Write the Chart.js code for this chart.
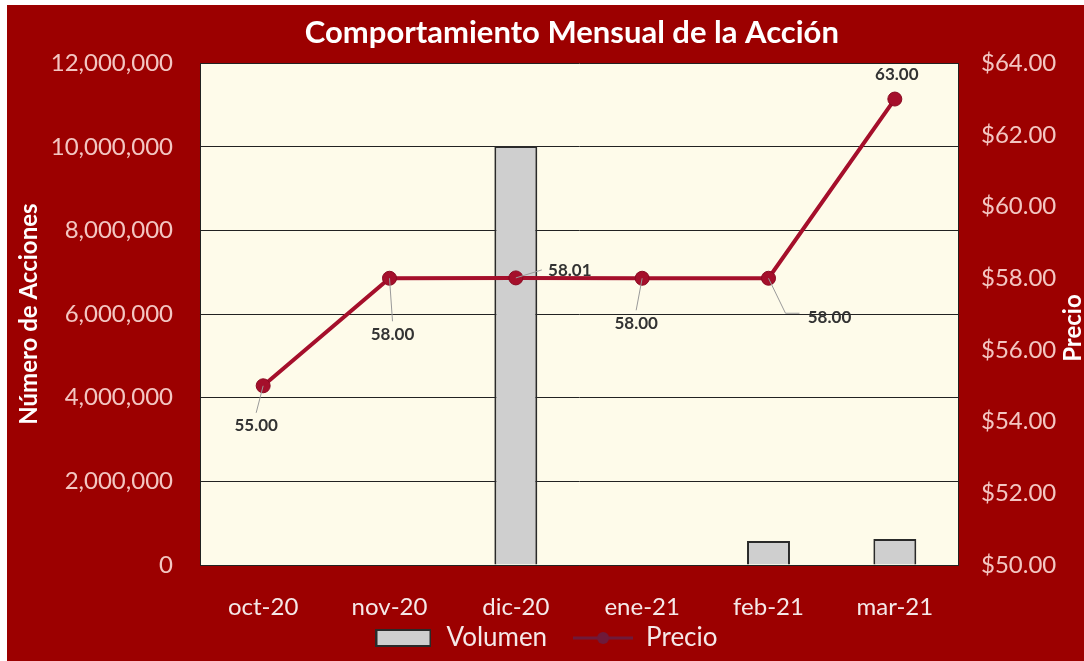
<!DOCTYPE html>
<html>
<head>
<meta charset="utf-8">
<script src="https://cdn.jsdelivr.net/npm/chart.js@4.4.0/dist/chart.umd.min.js"></script>
<style>
  html, body { margin: 0; padding: 0; background: #fff; }
  #wrap { position: absolute; left: 7px; top: 5px; width: 1077px; height: 656px; background: #9c0000; }
</style>
</head>
<body>
<div id="wrap"><canvas id="chart" width="1077" height="656"></canvas></div>
<script>
// datos
const meses = ["oct-20", "nov-20", "dic-20", "ene-21", "feb-21", "mar-21"];
const volumen = [0, 0, 10020000, 0, 575000, 620000];
const precio = [55.00, 58.00, 58.01, 58.00, 58.00, 63.00];
const etiquetasPrecio = ["55.00", "58.00", "58.01", "58.00", "58.00", "63.00"];

// desplazamiento de cada etiqueta respecto al punto (px)
const offsets = [[-7, 40], [3, 56], [54, -7], [-6, 45], [61, 39], [2, -25]];

const fuente = "Lato, 'Open Sans', sans-serif";
const rojoLinea = "#a50f2b";

// iconos de la leyenda
function iconoBarra() {
    const c = document.createElement("canvas");
    c.width = 56; c.height = 18;
    const g = c.getContext("2d");
    g.fillStyle = "#cfcfcf";
    g.fillRect(1, 1, 54, 16);
    g.strokeStyle = "#2a2a2a";
    g.lineWidth = 2;
    g.strokeRect(1, 1, 54, 16);
    return c;
}
function iconoLinea() {
    const c = document.createElement("canvas");
    c.width = 60; c.height = 18;
    const g = c.getContext("2d");
    g.strokeStyle = "#6e1a3a";
    g.lineWidth = 3;
    g.beginPath(); g.moveTo(0, 9); g.lineTo(60, 9); g.stroke();
    g.fillStyle = "#6e1a3a";
    g.beginPath(); g.arc(30, 9, 6, 0, Math.PI * 2); g.fill();
    return c;
}

const fondoArea = {
    id: "fondoArea",
    beforeDraw(chart) {
        const { ctx, chartArea: a } = chart;
        ctx.save();
        ctx.fillStyle = "#fefbea";
        ctx.fillRect(a.left, a.top, a.right - a.left, a.bottom - a.top);
        ctx.restore();
    }
};

const etiquetas = {
    id: "etiquetas",
    afterDatasetsDraw(chart) {
        const { ctx } = chart;
        const meta = chart.getDatasetMeta(0);
        ctx.save();
        ctx.font = "bold 17px " + fuente;
        ctx.textAlign = "center";
        ctx.textBaseline = "middle";
        meta.data.forEach((pt, i) => {
            const [dx, dy] = offsets[i];
            const lx = pt.x + dx, ly = pt.y + dy;
            ctx.strokeStyle = "#9a9a9a";
            ctx.lineWidth = 1;
            if (Math.abs(dy) > 30) {
                ctx.beginPath();
                ctx.moveTo(pt.x, pt.y);
                if (dx > 30) {
                    ctx.lineTo(lx - 44, ly - 4);
                    ctx.lineTo(lx - 30, ly - 4);
                } else {
                    ctx.lineTo(lx, ly - 13);
                }
                ctx.stroke();
            } else if (dx > 30) {
                ctx.beginPath();
                ctx.moveTo(pt.x, pt.y);
                ctx.lineTo(lx - 28, ly - 1);
                ctx.stroke();
            }
            ctx.fillStyle = "#333";
            ctx.fillText(etiquetasPrecio[i], lx, ly);
        });
        ctx.restore();
    }
};

const tituloPrecio = {
    id: "tituloPrecio",
    afterDraw(chart) {
        const { ctx, chartArea: a } = chart;
        ctx.save();
        ctx.translate(1066, (a.top + a.bottom) / 2 + 14);
        ctx.rotate(-Math.PI / 2);
        ctx.font = "bold 24px " + fuente;
        ctx.fillStyle = "#ffffff";
        ctx.textAlign = "center";
        ctx.textBaseline = "middle";
        ctx.fillText("Precio", 0, 0);
        ctx.restore();
    }
};

new Chart(document.getElementById("chart"), {
    data: {
        labels: meses,
        datasets: [
            {
                type: "line",
                label: "Precio",
                data: precio,
                yAxisID: "y1",
                borderColor: rojoLinea,
                backgroundColor: rojoLinea,
                borderWidth: 4,
                pointRadius: 7,
                pointBackgroundColor: rojoLinea,
                pointBorderColor: "#8a0a22",
                pointBorderWidth: 1,
                order: 0
            },
            {
                type: "bar",
                label: "Volumen",
                data: volumen,
                yAxisID: "y",
                backgroundColor: "#cfcfcf",
                borderColor: "#2a2a2a",
                borderWidth: 2,
                barPercentage: 0.34,
                categoryPercentage: 1,
                order: 1
            }
        ]
    },
    options: {
        responsive: false,
        maintainAspectRatio: false,
        animation: false,
        layout: { padding: 0 },
        plugins: {
            title: {
                display: true,
                text: "       Comportamiento Mensual de la Acción",
                color: "#ffffff",
                font: { family: fuente, size: 31, weight: "bold" },
                padding: { top: 9, bottom: 12 }
            },
            legend: {
                position: "bottom",
                labels: {
                    usePointStyle: true,
                    pointStyleWidth: 60,
                    color: "#f5e8e8",
                    font: { family: fuente, size: 26 },
                    padding: 6,
                    generateLabels(chart) {
                        return [
                            { text: "Volumen   ", pointStyle: iconoBarra(), fontColor: "#f5e8e8", datasetIndex: 1, lineWidth: 0 },
                            { text: "Precio", pointStyle: iconoLinea(), fontColor: "#f5e8e8", datasetIndex: 0, lineWidth: 0 }
                        ];
                    }
                }
            },
            tooltip: { enabled: false }
        },
        scales: {
            x: {
                grid: { display: false },
                border: { display: false },
                ticks: { color: "#f5e8e8", font: { family: fuente, size: 24 }, padding: 20, maxRotation: 0 },
                afterFit(s) { s.height = 54; }
            },
            y: {
                position: "left",
                min: 0,
                max: 12000000,
                ticks: {
                    stepSize: 2000000,
                    color: "#f3c6c2",
                    padding: 27,
                    font: { family: fuente, size: 24 },
                    callback: v => v.toLocaleString("en-US")
                },
                grid: { color: "#222", lineWidth: 1, drawTicks: false },
                border: { display: true, color: "#222", width: 1 },
                title: {
                    display: true,
                    text: "Número de Acciones",
                    color: "#ffffff",
                    font: { family: fuente, size: 24, weight: "bold" },
                    padding: { top: 8, bottom: 0 }
                },
                afterFit(s) { s.width = 193; }
            },
            y1: {
                position: "right",
                min: 50,
                max: 64,
                ticks: {
                    stepSize: 2,
                    color: "#f3c6c2",
                    padding: 23,
                    font: { family: fuente, size: 24 },
                    callback: v => "$" + v.toFixed(2)
                },
                grid: { display: false, drawTicks: false },
                border: { display: true, color: "#222", width: 1 },
                afterFit(s) { s.width = 126; }
            }
        }
    },
    plugins: [fondoArea, etiquetas, tituloPrecio]
});
</script>
</body>
</html>
